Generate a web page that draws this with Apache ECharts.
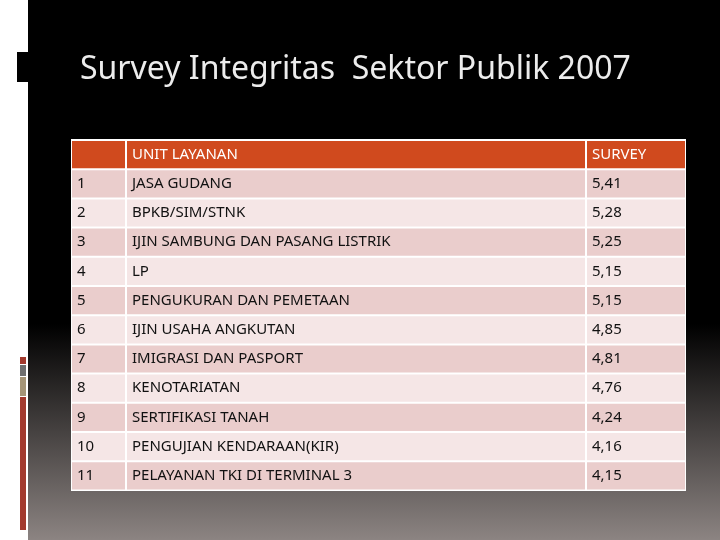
<!DOCTYPE html>
<html><head><meta charset="utf-8">
<script src="https://cdn.jsdelivr.net/npm/echarts@6/dist/echarts.min.js"></script>
<style>html,body{margin:0;padding:0;background:#fff}#c{width:720px;height:540px}</style>
</head><body><div id="c"></div>
<script>
const title = "Survey Integritas  Sektor Publik 2007";
const headers = ["", "UNIT LAYANAN", "SURVEY"];
const numbers = ["1","2","3","4","5","6","7","8","9","10","11"];
const units = ["JASA GUDANG","BPKB/SIM/STNK","IJIN SAMBUNG DAN PASANG LISTRIK","LP","PENGUKURAN DAN PEMETAAN","IJIN USAHA ANGKUTAN","IMIGRASI DAN PASPORT","KENOTARIATAN","SERTIFIKASI TANAH","PENGUJIAN KENDARAAN(KIR)","PELAYANAN TKI DI TERMINAL 3"];
const surveys = ["5,41","5,28","5,25","5,15","5,15","4,85","4,81","4,76","4,24","4,16","4,15"];

const cols = [[72,53],[127,458],[587,98]];
const top0 = 140, rh = 29.2;
const font = '"Noto Sans", "Open Sans", sans-serif';
const els = [];
els.push({type:'rect',shape:{x:28,y:0,width:692,height:540},style:{fill:new echarts.graphic.LinearGradient(0,0,0,1,[{offset:0,color:'#000'},{offset:0.6,color:'#000'},{offset:1,color:'#8c8482'}])}});
els.push({type:'rect',shape:{x:17,y:52,width:11,height:30},style:{fill:'#000'}});
els.push({type:'rect',shape:{x:20,y:357,width:6,height:7},style:{fill:'#a33a2e'}});
els.push({type:'rect',shape:{x:20,y:365,width:6,height:11},style:{fill:'#6f6f6f'}});
els.push({type:'rect',shape:{x:20,y:377,width:6,height:19},style:{fill:'#a59577'}});
els.push({type:'rect',shape:{x:20,y:397,width:6,height:133},style:{fill:'#a33a2e'}});
els.push({type:'text',x:80,y:70,style:{text:title,fill:'#ececec',font:'32px '+font,verticalAlign:'middle'}});
els.push({type:'rect',shape:{x:71,y:139,width:615,height:352},style:{fill:'#fff'}});
const rows = [headers].concat(numbers.map((n,i)=>[n,units[i],surveys[i]]));
rows.forEach((r,i)=>{
  const y = top0 + i*rh;
  const fill = i===0 ? '#d04a1e' : (i%2===1 ? '#eacdcc' : '#f5e6e6');
  r.forEach((t,j)=>{
    els.push({type:'rect',shape:{x:cols[j][0],y:y+1,width:cols[j][1],height:rh-2},style:{fill}});
    els.push({type:'text',x:cols[j][0]+5,y:y+rh/2,style:{text:t,fill:i===0?'#fff':'#111',font:'15px '+font,verticalAlign:'middle'}});
  });
});
const chart = echarts.init(document.getElementById('c'));
chart.setOption({backgroundColor:'#fff',graphic:{elements:els}});
</script></body></html>
